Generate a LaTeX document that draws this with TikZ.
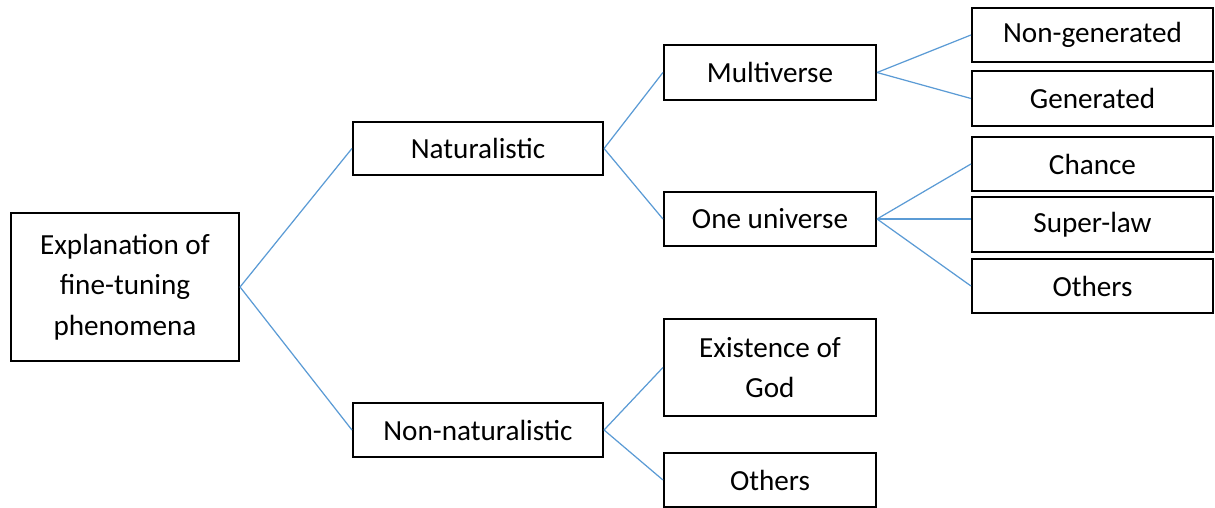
\documentclass[tikz,border=0pt]{standalone}
\usepackage{fontspec}
\setmainfont{Carlito}
\definecolor{linkblue}{HTML}{5B9BD5}
\begin{document}
\begin{tikzpicture}[font=\fontsize{8.3}{11.6}\selectfont,
        box/.style={draw, line width=0.6pt, align=center, inner sep=0pt},
        link/.style={draw=linkblue, line width=0.35pt}]
        \useasboundingbox (0,0) rectangle (12.15,5.08);

        \node[box, minimum width=2.28cm, minimum height=1.48cm] (root) at (1.25, 2.21) {Explanation of\\fine-tuning\\phenomena};
        \node[box, minimum width=2.50cm, minimum height=0.53cm] (nat) at (4.78, 3.595) {Naturalistic};
        \node[box, minimum width=2.50cm, minimum height=0.54cm] (nonnat) at (4.78, 0.78) {Non-naturalistic};
        \node[box, minimum width=2.12cm, minimum height=0.55cm] (multi) at (7.70, 4.355) {Multiverse};
        \node[box, minimum width=2.12cm, minimum height=0.54cm] (one) at (7.70, 2.89) {One universe};
        \node[box, minimum width=2.12cm, minimum height=0.97cm] (god) at (7.70, 1.405) {Existence of\\God};
        \node[box, minimum width=2.12cm, minimum height=0.54cm] (othersA) at (7.70, 0.28) {Others};
        \node[box, minimum width=2.41cm, minimum height=0.54cm] (nongen) at (10.925, 4.73) {Non-generated};
        \node[box, minimum width=2.41cm, minimum height=0.55cm] (gen) at (10.925, 4.095) {Generated};
        \node[box, minimum width=2.41cm, minimum height=0.54cm] (chance) at (10.925, 3.44) {Chance};
        \node[box, minimum width=2.41cm, minimum height=0.55cm] (superlaw) at (10.925, 2.835) {Super-law};
        \node[box, minimum width=2.41cm, minimum height=0.54cm] (othersB) at (10.925, 2.22) {Others};

        \draw[link] (root.east) -- (nat.west);
        \draw[link] (root.east) -- (nonnat.west);
        \draw[link] (nat.east) -- (multi.west);
        \draw[link] (nat.east) -- (one.west);
        \draw[link] (nonnat.east) -- (god.west);
        \draw[link] (nonnat.east) -- (othersA.west);
        \draw[link] (multi.east) -- (nongen.west);
        \draw[link] (multi.east) -- (gen.west);
        \draw[link] (one.east) -- (chance.west);
        \draw[link] (one.east) -- (one.east -| superlaw.west);
        \draw[link] (one.east) -- (othersB.west);

    \end{tikzpicture}
\end{document}
